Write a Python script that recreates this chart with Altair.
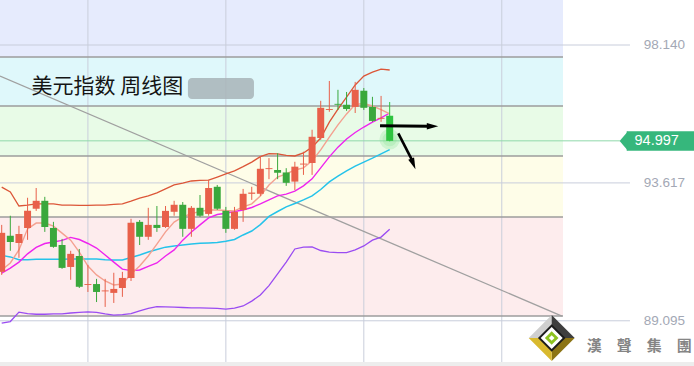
import altair as alt
import pandas as pd
import numpy as np

# ---------------- data (weekly US dollar index) ----------------
opens = [90.70,91.88,91.65,92.14,92.77,93.03,92.14,91.58,90.86,91.22,
         90.27,90.30,90.06,90.01,90.17,90.50,92.34,91.85,92.24,92.17,
         92.67,92.90,92.11,92.80,92.60,93.49,92.70,92.11,92.73,93.26,
         93.26,94.07,94.04,93.96,93.66,94.22,94.27,95.09,96.01,96.21,
         96.18,96.11,96.64,96.11,95.72,95.82]
highs = [92.24,92.54,92.21,93.13,93.45,93.16,92.34,91.78,91.39,91.45,
         90.93,90.47,90.47,90.67,90.70,92.44,92.40,92.80,92.86,92.86,
         93.03,92.99,92.86,93.22,93.72,93.55,92.83,92.83,93.42,93.49,
         94.50,94.43,94.59,94.10,94.31,94.64,95.36,96.31,96.96,96.67,
         96.60,96.93,96.73,96.44,96.47,96.27]
lows = [90.60,91.39,91.16,91.75,92.70,92.01,91.49,90.80,90.44,90.17,
        90.04,89.71,89.55,89.68,89.88,90.40,91.58,91.75,92.01,92.14,
        92.54,91.85,91.85,92.50,92.54,92.73,91.98,92.08,92.34,93.06,
        93.19,93.74,93.74,93.52,93.38,93.88,93.88,95.03,95.95,96.01,
        95.98,95.91,96.01,95.62,95.62,94.98]
closes = [91.98,91.68,91.94,92.70,93.03,92.17,91.52,90.83,91.29,90.21,
          90.30,90.04,90.09,90.14,90.50,92.31,91.85,92.24,92.14,92.70,
          92.90,92.11,92.80,92.54,93.45,92.77,92.11,92.67,93.26,93.30,
          94.08,94.10,93.95,93.62,94.15,94.25,95.13,96.08,96.04,96.18,
          96.04,96.67,96.08,95.65,95.75,94.997]

boll_upper = [93.48,93.32,92.86,92.89,92.93,92.93,92.93,92.89,92.89,92.88,
              92.88,92.89,92.89,92.91,92.93,93.02,93.12,93.19,93.29,93.42,
              93.55,93.61,93.68,93.70,93.71,93.81,93.91,94.01,94.15,94.30,
              94.48,94.58,94.57,94.52,94.50,94.60,94.79,95.09,95.61,96.04,
              96.43,96.83,97.12,97.25,97.35,97.32]
boll_mid = [91.24,91.19,91.10,91.10,91.11,91.11,91.11,91.11,91.12,91.12,
            91.12,91.12,91.10,91.09,91.09,91.17,91.25,91.35,91.43,91.51,
            91.55,91.58,91.61,91.64,91.65,91.66,91.70,91.76,91.91,92.04,
            92.25,92.52,92.68,92.83,92.94,93.06,93.19,93.40,93.65,93.84,
            94.01,94.17,94.30,94.43,94.57,94.71]
boll_lower = [89.02,89.07,89.38,89.33,89.31,89.31,89.32,89.32,89.35,89.37,
              89.39,89.37,89.32,89.28,89.30,89.33,89.42,89.50,89.56,89.55,
              89.54,89.53,89.52,89.52,89.51,89.50,89.48,89.51,89.58,89.74,
              89.94,90.25,90.63,91.02,91.45,91.51,91.52,91.40,91.35,91.33,
              91.33,91.42,91.55,91.74,91.84,92.10]
ma5 = [90.76,90.99,91.42,92.11,92.30,92.30,92.20,91.97,91.74,91.35,
       90.89,90.60,90.40,90.27,90.30,90.63,90.89,91.22,91.61,92.01,
       92.33,92.50,92.61,92.68,92.73,92.73,92.71,92.70,92.83,92.93,
       93.19,93.55,93.81,93.91,94.04,94.11,94.34,94.70,95.12,95.52,
       95.88,96.19,96.22,96.14,96.02,95.88]
ma10 = [90.66,90.82,91.02,91.29,91.50,91.63,91.68,91.73,91.83,91.76,
        91.63,91.48,91.25,91.02,90.79,90.74,90.76,90.88,90.99,91.22,
        91.42,91.74,92.01,92.24,92.47,92.58,92.62,92.68,92.73,92.81,
        92.93,93.06,93.19,93.25,93.35,93.52,93.75,94.11,94.47,94.79,
        95.06,95.27,95.45,95.61,95.75,95.91]

band_levels = [99.616, 97.746, 96.139, 94.499, 92.499, 89.252]
band_colors = ["#e6ebfd", "#dff8fb", "#e8fbe7", "#fefde8", "#fdeced"]
axis_labels = [98.140, 93.617, 89.095]
last_price = 94.997
trend_start, trend_end = 97.12, 89.25
title_text = "美元指数 周线图"
logo_text = "漢　聲　集　團"

# ---------------- scales ----------------
X0, X1 = -0.197, 80.295
Y0, Y1 = 87.612, 99.616
BAND_END = 65.1
LINE_END = 72.87
xs = alt.Scale(domain=[X0, X1], nice=False, zero=False)
ys = alt.Scale(domain=[Y0, Y1], nice=False, zero=False)


def X(f):
    return alt.X(f, type="quantitative", scale=xs, axis=None)


def Y(f):
    return alt.Y(f, type="quantitative", scale=ys, axis=None)


n = len(opens)
idx = list(range(n))
RED, GREEN = "#e8604a", "#3aa83c"
cdf = pd.DataFrame({"i": idx, "o": opens, "h": highs, "l": lows, "c": closes})
cdf["col"] = np.where(cdf["c"] > cdf["o"], RED, GREEN)
cdf.loc[n - 1, "col"] = "#2ec33f"
cdf["xa"] = cdf["i"] - 0.405
cdf["xb"] = cdf["i"] + 0.405

layers = []

# background bands
bdf = pd.DataFrame({"lo": band_levels[1:], "hi": band_levels[:-1], "col": band_colors})
bdf["xa"], bdf["xb"] = X0, BAND_END
layers.append(alt.Chart(bdf).mark_rect().encode(
    x=X("xa"), x2="xb", y=Y("lo"), y2="hi", color=alt.Color("col:N", scale=None)))

# bottom strip
sdf = pd.DataFrame({"xa": [X0], "xb": [X1], "lo": [Y0], "hi": [87.743]})
layers.append(alt.Chart(sdf).mark_rect(color="#ededed").encode(
    x=X("xa"), x2="xb", y=Y("lo"), y2="hi"))

# vertical grid
gdf = pd.DataFrame({"i": [10, 26, 42, 58], "lo": 87.743, "hi": Y1})
layers.append(alt.Chart(gdf).mark_rule(color="#c9cedb", strokeWidth=1).encode(
    x=X("i"), y=Y("lo"), y2="hi"))

# price grid lines
pdf_ = pd.DataFrame({"v": axis_labels, "xa": X0, "xb": LINE_END})
layers.append(alt.Chart(pdf_).mark_rule(color="#c8cddb", strokeWidth=1).encode(
    x=X("xa"), x2="xb", y=Y("v")))

# band separator lines
ldf = pd.DataFrame({"v": band_levels[1:], "xa": X0, "xb": BAND_END})
layers.append(alt.Chart(ldf).mark_rule(color="#9c9c9c", strokeWidth=1.5).encode(
    x=X("xa"), x2="xb", y=Y("v")))

# last price line
lpdf = pd.DataFrame({"v": [last_price], "xa": X0, "xb": 71.7})
layers.append(alt.Chart(lpdf).mark_rule(color="#8fd8aa", strokeWidth=1).encode(
    x=X("xa"), x2="xb", y=Y("v")))

# trend line
tdf = pd.DataFrame({"i": [X0, 64.98], "v": [trend_start, trend_end]})
layers.append(alt.Chart(tdf).mark_line(color="#a0a0a0", strokeWidth=1.3).encode(
    x=X("i"), y=Y("v")))

# indicator lines
for vals, col, w in [(boll_lower, "#9a4cf2", 1.3), (boll_mid, "#25c3ea", 1.5),
                     (ma10, "#ee24ee", 1.4), (ma5, "#f4a090", 1.4),
                     (boll_upper, "#dc5638", 1.3)]:
    d = pd.DataFrame({"i": idx, "v": vals})
    layers.append(alt.Chart(d).mark_line(color=col, strokeWidth=w).encode(
        x=X("i"), y=Y("v")))

# glow around last candle
gl = pd.DataFrame({"i": [45, 45], "v": [95.05, 95.05], "s": [420, 200]})
layers.append(alt.Chart(gl).mark_circle(color="#7fe08a", opacity=0.25).encode(
    x=X("i"), y=Y("v"), size=alt.Size("s:Q", scale=None)))

# candles
layers.append(alt.Chart(cdf).mark_rule(strokeWidth=1).encode(
    x=X("i"), y=Y("l"), y2="h", color=alt.Color("col:N", scale=None)))
layers.append(alt.Chart(cdf).mark_rect().encode(
    x=X("xa"), x2="xb", y=Y("o"), y2="c", color=alt.Color("col:N", scale=None)))

# arrows
a1 = pd.DataFrame({"i": [43.88, 49.5], "v": [95.49, 95.475]})
layers.append(alt.Chart(a1).mark_line(color="#000000", strokeWidth=3).encode(
    x=X("i"), y=Y("v")))
a2 = pd.DataFrame({"i": [46.0, 47.55], "v": [95.24, 94.39]})
layers.append(alt.Chart(a2).mark_line(color="#000000", strokeWidth=2.6).encode(
    x=X("i"), y=Y("v")))
heads = pd.DataFrame({"i": [49.97, 47.74], "v": [95.475, 94.24], "ang": [0, 68]})
layers.append(alt.Chart(heads).mark_point(
    shape="M-1,-0.55L1,0L-1,0.55Z", filled=True, color="#000000", opacity=1, size=130,
    strokeWidth=0).encode(x=X("i"), y=Y("v"), angle=alt.Angle("ang:Q", scale=None)))

# title + blurred box
bx = pd.DataFrame({"xa": [21.6], "xb": [29.26], "lo": [96.37], "hi": [97.06]})
layers.append(alt.Chart(bx).mark_rect(color="#a8b4b7", opacity=0.85, cornerRadius=4).encode(
    x=X("xa"), x2="xb", y=Y("lo"), y2="hi"))
tt = pd.DataFrame({"i": [3.45], "v": [96.76], "t": [title_text]})
layers.append(alt.Chart(tt).mark_text(
    align="left", baseline="middle", fontSize=21, font="Noto Sans CJK SC",
    color="#151515").encode(x=X("i"), y=Y("v"), text="t:N"))

# right axis labels
al = pd.DataFrame({"v": axis_labels, "i": 79.25,
                   "t": [f"{v:.3f}" for v in axis_labels]})
layers.append(alt.Chart(al).mark_text(
    align="right", baseline="middle", fontSize=13.5, font="Liberation Sans",
    color="#a3a8b5").encode(x=X("i"), y=Y("v"), text="t:N"))

# last price tag
tag = pd.DataFrame({"xa": [72.49], "xb": [X1], "lo": [94.67], "hi": [95.31]})
layers.append(alt.Chart(tag).mark_rect(color="#36b77c").encode(
    x=X("xa"), x2="xb", y=Y("lo"), y2="hi"))
tip = pd.DataFrame({"i": [72.52], "v": [94.99]})
layers.append(alt.Chart(tip).mark_point(
    shape="M0.1,-1L-0.75,0L0.1,1Z", filled=True, color="#36b77c", opacity=1,
    size=380, strokeWidth=0).encode(x=X("i"), y=Y("v")))
tg = pd.DataFrame({"i": [75.97], "v": [last_price], "t": [f"{last_price:.3f}"]})
layers.append(alt.Chart(tg).mark_text(
    align="center", baseline="middle", fontSize=14.5, font="Liberation Sans",
    color="#ffffff").encode(x=X("i"), y=Y("v"), text="t:N"))

# logo
diamond = "M-1,0L0,-1L1,0L0,1Z"
lg_i, lg_v = 63.79, 88.53
for shape, col, sz in [("M0,0L-1,0L0,-1Z", "#cfcfcf", 2116),
                       ("M0,0L0,-1L1,0Z", "#3e3e3e", 2116),
                       ("M0,0L1,0L0,1Z", "#8c7414", 2116),
                       ("M0,0L0,1L-1,0Z", "#d9b92e", 2116),
                       (diamond, "#1c1c1c", 760),
                       (diamond, "#ffffff", 484),
                       (diamond, "#8cc21f", 185),
                       (diamond, "#ffffff", 32)]:
    d = pd.DataFrame({"i": [lg_i], "v": [lg_v]})
    layers.append(alt.Chart(d).mark_point(
        shape=shape, filled=True, color=col, opacity=1, size=sz,
        strokeWidth=0).encode(x=X("i"), y=Y("v")))
lt = pd.DataFrame({"i": [67.85], "v": [88.28], "t": [logo_text]})
layers.append(alt.Chart(lt).mark_text(
    align="left", baseline="middle", fontSize=15, font="Noto Sans CJK TC",
    fontWeight="bold", color="#858585").encode(x=X("i"), y=Y("v"), text="t:N"))

chart = alt.layer(*layers).properties(
    width=694, height=366, padding=0, autosize="none", background="#ffffff"
).configure_view(stroke=None)

chart.save("out.html", embed_options={"renderer": "svg", "actions": False})
